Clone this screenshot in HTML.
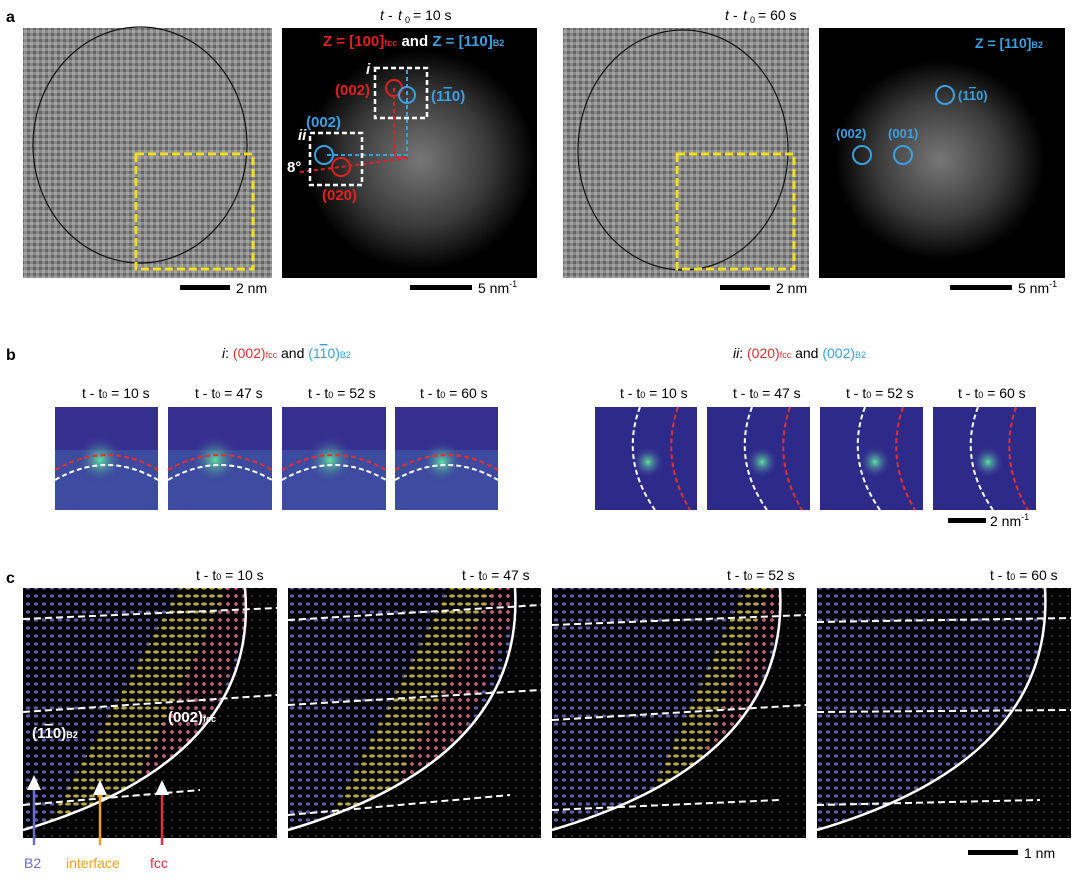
<!DOCTYPE html>
<html><head><meta charset="utf-8"><style>
body{margin:0;background:#fff;}
svg{display:block;font-family:"Liberation Sans",sans-serif;}
</style></head><body>
<svg width="1080" height="880" viewBox="0 0 1080 880" xmlns="http://www.w3.org/2000/svg">
<defs>
<pattern id="tem" width="6" height="6" patternUnits="userSpaceOnUse">
<rect width="6" height="6" fill="#8a8a8a"/><rect x="0" y="0" width="3" height="3" fill="#a4a4a4"/><rect x="3" y="3" width="3" height="3" fill="#666"/></pattern>
<pattern id="lat" width="8" height="8" patternUnits="userSpaceOnUse">
<rect width="8" height="8" fill="#050508"/><ellipse cx="4" cy="4" rx="2.2" ry="1.6" fill="#5e5eaa"/></pattern>
<pattern id="latY" width="8" height="8" patternUnits="userSpaceOnUse">
<rect width="8" height="8" fill="#08080a"/><ellipse cx="4" cy="4" rx="3" ry="1.6" fill="#b8a848"/></pattern>
<pattern id="latR" width="8" height="8" patternUnits="userSpaceOnUse">
<rect width="8" height="8" fill="#08060a"/><circle cx="4" cy="4" r="1.9" fill="#c06070"/></pattern>
<pattern id="latW" width="8" height="8" patternUnits="userSpaceOnUse">
<rect width="8" height="8" fill="#000"/><circle cx="4" cy="4" r="1" fill="#333"/></pattern>
<radialGradient id="fft"><stop offset="0" stop-color="#777"/><stop offset="0.6" stop-color="#3a3a3a"/><stop offset="1" stop-color="#000"/></radialGradient>
<radialGradient id="spot"><stop offset="0" stop-color="#60e0a0"/><stop offset="1" stop-color="#3a2f9a" stop-opacity="0"/></radialGradient>
</defs>
<g font-weight="bold" font-size="16"><text x="6" y="22">a</text><text x="6" y="360">b</text><text x="6" y="583">c</text></g>

<!-- row a -->
<g font-size="14">
<text x="380" y="20" font-style="italic">t</text><text x="388" y="20">- </text><text x="398" y="20" font-style="italic">t</text><text x="405" y="23" font-size="9">0</text><text x="413" y="20">= 10 s</text>
<text x="725" y="20" font-style="italic">t</text><text x="733" y="20">- </text><text x="743" y="20" font-style="italic">t</text><text x="750" y="23" font-size="9">0</text><text x="758" y="20">= 60 s</text>
</g>
<rect x="23" y="28" width="249" height="250" fill="url(#tem)"/>
<ellipse cx="140" cy="145" rx="107" ry="118" fill="none" stroke="#111" stroke-width="1.2"/>
<rect x="136" y="154" width="117" height="115" fill="none" stroke="#f0e020" stroke-width="3" stroke-dasharray="8,4"/>
<rect x="282" y="28" width="255" height="250" fill="#000"/>
<ellipse cx="420" cy="160" rx="115" ry="110" fill="url(#fft)"/>
<text x="323" y="46" font-size="15" font-weight="bold" fill="#e02020">Z = [100]<tspan font-size="9">fcc</tspan><tspan fill="#fff"> and </tspan><tspan fill="#3aa0e0">Z = [110]<tspan font-size="9">B2</tspan></tspan></text>
<path d="M394 88 L394 157 L408 157" stroke="#e02020" stroke-width="2" fill="none" stroke-dasharray="4,3"/>
<path d="M407 70 L407 155 L324 155" stroke="#3aa0e0" stroke-width="2" fill="none" stroke-dasharray="4,3"/>
<path d="M300 172 L341 167 L408 158" stroke="#e02020" stroke-width="2" fill="none" stroke-dasharray="4,3"/>
<rect x="375" y="68" width="52" height="50" fill="none" stroke="#fff" stroke-width="2.5" stroke-dasharray="5,3"/>
<rect x="310" y="133" width="52" height="52" fill="none" stroke="#fff" stroke-width="2.5" stroke-dasharray="5,3"/>
<circle cx="394" cy="88" r="8" fill="none" stroke="#e02020" stroke-width="2"/>
<circle cx="407" cy="95" r="8" fill="none" stroke="#3aa0e0" stroke-width="2"/>
<circle cx="324" cy="155" r="9" fill="none" stroke="#3aa0e0" stroke-width="2"/>
<circle cx="341" cy="167" r="9" fill="none" stroke="#e02020" stroke-width="2"/>
<g font-size="15" font-weight="bold"><text x="335" y="95" fill="#e02020">(002)</text><text x="431" y="101" fill="#3aa0e0">(1<tspan text-decoration="overline">1</tspan>0)</text>
<text x="306" y="127" fill="#3aa0e0">(002)</text><text x="322" y="200" fill="#e02020">(020)</text><text x="287" y="172" fill="#fff">8°</text>
<text x="366" y="74" fill="#fff" font-style="italic">i</text><text x="298" y="140" fill="#fff" font-style="italic">ii</text></g>
<rect x="563" y="28" width="246" height="250" fill="url(#tem)"/>
<ellipse cx="683" cy="150" rx="105" ry="120" fill="none" stroke="#111" stroke-width="1.2"/>
<rect x="677" y="154" width="117" height="115" fill="none" stroke="#f0e020" stroke-width="3" stroke-dasharray="8,4"/>
<rect x="819" y="28" width="246" height="250" fill="#000"/>
<ellipse cx="940" cy="160" rx="105" ry="100" fill="url(#fft)"/>
<text x="975" y="48" font-size="14" font-weight="bold" fill="#3aa0e0">Z = [110]<tspan font-size="9">B2</tspan></text>
<circle cx="945" cy="95" r="9" fill="none" stroke="#3aa0e0" stroke-width="2"/>
<circle cx="862" cy="155" r="9" fill="none" stroke="#3aa0e0" stroke-width="2"/>
<circle cx="903" cy="155" r="9" fill="none" stroke="#3aa0e0" stroke-width="2"/>
<g font-size="13" font-weight="bold" fill="#3aa0e0"><text x="958" y="100">(1<tspan text-decoration="overline">1</tspan>0)</text><text x="836" y="138">(002)</text><text x="888" y="138">(001)</text></g>
<g font-size="14"><rect x="180" y="285" width="50" height="5" fill="#000"/><text x="236" y="293">2 nm</text>
<rect x="410" y="285" width="62" height="5" fill="#000"/><text x="478" y="293">5 nm<tspan font-size="9" dy="-6">-1</tspan></text>
<rect x="720" y="285" width="50" height="5" fill="#000"/><text x="776" y="293">2 nm</text>
<rect x="950" y="285" width="62" height="5" fill="#000"/><text x="1018" y="293">5 nm<tspan font-size="9" dy="-6">-1</tspan></text></g>

<!-- row b -->
<g font-size="14">
<text x="222" y="358"><tspan font-style="italic">i</tspan>: <tspan fill="#e03030">(002)<tspan font-size="9">fcc</tspan></tspan> and <tspan fill="#3aa0e0">(1<tspan text-decoration="overline">1</tspan>0)<tspan font-size="9">B2</tspan></tspan></text>
<text x="733" y="358"><tspan font-style="italic">ii</tspan>: <tspan fill="#e03030">(020)<tspan font-size="9">fcc</tspan></tspan> and <tspan fill="#3aa0e0">(002)<tspan font-size="9">B2</tspan></tspan></text>
</g>
<g font-size="14">
<text x="82" y="398">t - t<tspan font-size="9">0</tspan> = 10 s</text><text x="195" y="398">t - t<tspan font-size="9">0</tspan> = 47 s</text><text x="308" y="398">t - t<tspan font-size="9">0</tspan> = 52 s</text><text x="420" y="398">t - t<tspan font-size="9">0</tspan> = 60 s</text>
<text x="620" y="398">t - t<tspan font-size="9">0</tspan> = 10 s</text><text x="733" y="398">t - t<tspan font-size="9">0</tspan> = 47 s</text><text x="846" y="398">t - t<tspan font-size="9">0</tspan> = 52 s</text><text x="958" y="398">t - t<tspan font-size="9">0</tspan> = 60 s</text>
</g>
<g>
<rect x="55" y="407" width="103" height="103" fill="#35308f"/><rect x="55" y="450" width="103" height="60" fill="#3d4ba0"/><circle cx="100" cy="460" r="25" fill="url(#spot)"/>
<path d="M55 470 Q107 440 158 470" stroke="#e03030" stroke-width="2" fill="none" stroke-dasharray="5,3"/><path d="M55 480 Q107 450 158 480" stroke="#fff" stroke-width="2" fill="none" stroke-dasharray="5,3"/>
<rect x="168" y="407" width="104" height="103" fill="#35308f"/><rect x="168" y="450" width="104" height="60" fill="#3d4ba0"/><circle cx="215" cy="460" r="25" fill="url(#spot)"/>
<path d="M168 470 Q220 440 272 470" stroke="#e03030" stroke-width="2" fill="none" stroke-dasharray="5,3"/><path d="M168 480 Q220 450 272 480" stroke="#fff" stroke-width="2" fill="none" stroke-dasharray="5,3"/>
<rect x="282" y="407" width="104" height="103" fill="#35308f"/><rect x="282" y="450" width="104" height="60" fill="#3d4ba0"/><circle cx="330" cy="460" r="25" fill="url(#spot)"/>
<path d="M282 470 Q334 440 386 470" stroke="#e03030" stroke-width="2" fill="none" stroke-dasharray="5,3"/><path d="M282 480 Q334 450 386 480" stroke="#fff" stroke-width="2" fill="none" stroke-dasharray="5,3"/>
<rect x="395" y="407" width="103" height="103" fill="#35308f"/><rect x="395" y="450" width="103" height="60" fill="#3d4ba0"/><circle cx="442" cy="462" r="22" fill="url(#spot)"/>
<path d="M395 470 Q447 440 498 470" stroke="#e03030" stroke-width="2" fill="none" stroke-dasharray="5,3"/><path d="M395 480 Q447 450 498 480" stroke="#fff" stroke-width="2" fill="none" stroke-dasharray="5,3"/>
</g>
<g>
<rect x="595" y="407" width="102" height="103" fill="#2e2a8a"/><circle cx="648" cy="462" r="16" fill="url(#spot)"/>
<path d="M640 407 Q620 460 655 510" stroke="#fff" stroke-width="2" fill="none" stroke-dasharray="5,3"/><path d="M678 407 Q660 460 690 510" stroke="#e03030" stroke-width="2" fill="none" stroke-dasharray="5,3"/>
<rect x="707" y="407" width="103" height="103" fill="#2e2a8a"/><circle cx="762" cy="462" r="16" fill="url(#spot)"/>
<path d="M752 407 Q732 460 767 510" stroke="#fff" stroke-width="2" fill="none" stroke-dasharray="5,3"/><path d="M790 407 Q772 460 802 510" stroke="#e03030" stroke-width="2" fill="none" stroke-dasharray="5,3"/>
<rect x="820" y="407" width="103" height="103" fill="#2e2a8a"/><circle cx="875" cy="462" r="16" fill="url(#spot)"/>
<path d="M865 407 Q845 460 880 510" stroke="#fff" stroke-width="2" fill="none" stroke-dasharray="5,3"/><path d="M903 407 Q885 460 915 510" stroke="#e03030" stroke-width="2" fill="none" stroke-dasharray="5,3"/>
<rect x="933" y="407" width="103" height="103" fill="#2e2a8a"/><circle cx="988" cy="462" r="16" fill="url(#spot)"/>
<path d="M978 407 Q958 460 993 510" stroke="#fff" stroke-width="2" fill="none" stroke-dasharray="5,3"/><path d="M1016 407 Q998 460 1028 510" stroke="#e03030" stroke-width="2" fill="none" stroke-dasharray="5,3"/>
</g>
<rect x="948" y="518" width="38" height="5" fill="#000"/><text x="990" y="526" font-size="14">2 nm<tspan font-size="9" dy="-6">-1</tspan></text>

<!-- row c -->
<g font-size="14">
<text x="196" y="580">t - t<tspan font-size="9">0</tspan> = 10 s</text><text x="462" y="580">t - t<tspan font-size="9">0</tspan> = 47 s</text><text x="727" y="580">t - t<tspan font-size="9">0</tspan> = 52 s</text><text x="990" y="580">t - t<tspan font-size="9">0</tspan> = 60 s</text>
</g>
<g>
<rect x="23" y="588" width="254" height="250" fill="url(#lat)"/>
<polygon points="180,588 228,588 110,838 40,838" fill="url(#latY)"/>
<polygon points="228,588 260,588 170,838 110,838" fill="url(#latR)"/>
<path d="M245 588 Q260 760 23 830 L23 838 L277 838 L277 588 Z" fill="url(#latW)"/>
<path d="M245 588 Q260 760 23 830" stroke="#fff" stroke-width="2.5" fill="none"/>
<path d="M23 619 L277 608 M23 712 L277 695 M23 805 L200 790" stroke="#fff" stroke-width="2" stroke-dasharray="7,4"/>
<text x="32" y="738" fill="#fff" font-weight="bold" font-size="15">(1<tspan text-decoration="overline">1</tspan>0)<tspan font-size="9">B2</tspan></text>
<text x="168" y="722" fill="#fff" font-weight="bold" font-size="15">(002)<tspan font-size="9">fcc</tspan></text>
</g>
<g>
<rect x="288" y="588" width="253" height="250" fill="url(#lat)"/>
<polygon points="450,588 495,588 370,838 320,838" fill="url(#latY)"/>
<polygon points="495,588 525,588 420,838 370,838" fill="url(#latR)"/>
<path d="M515 588 Q525 760 288 830 L288 838 L541 838 L541 588 Z" fill="url(#latW)"/>
<path d="M515 588 Q525 760 288 830" stroke="#fff" stroke-width="2.5" fill="none"/>
<path d="M288 620 L541 605 M288 705 L541 690 M288 815 L510 795" stroke="#fff" stroke-width="2" stroke-dasharray="7,4"/>
</g>
<g>
<rect x="552" y="588" width="254" height="250" fill="url(#lat)"/>
<polygon points="745,588 770,588 670,838 630,838" fill="url(#latY)"/>
<polygon points="770,588 790,588 710,838 670,838" fill="url(#latR)"/>
<path d="M780 588 Q790 760 552 830 L552 838 L806 838 L806 588 Z" fill="url(#latW)"/>
<path d="M780 588 Q790 760 552 830" stroke="#fff" stroke-width="2.5" fill="none"/>
<path d="M552 625 L806 615 M552 720 L806 705 M552 810 L780 800" stroke="#fff" stroke-width="2" stroke-dasharray="7,4"/>
</g>
<g>
<rect x="817" y="588" width="254" height="250" fill="url(#lat)"/>
<path d="M1045 588 Q1055 760 817 830 L817 838 L1071 838 L1071 588 Z" fill="url(#latW)"/>
<path d="M1045 588 Q1055 760 817 830" stroke="#fff" stroke-width="2.5" fill="none"/>
<path d="M817 622 L1071 618 M817 712 L1071 710 M817 805 L1040 800" stroke="#fff" stroke-width="2" stroke-dasharray="7,4"/>
</g>
<g stroke-width="2.5">
<line x1="34" y1="845" x2="34" y2="785" stroke="#6a6ad0"/><polygon points="27,790 41,790 34,775" fill="#fff"/>
<line x1="100" y1="845" x2="100" y2="790" stroke="#f0a020"/><polygon points="93,795 107,795 100,780" fill="#fff"/>
<line x1="162" y1="845" x2="162" y2="790" stroke="#e03040"/><polygon points="155,795 169,795 162,780" fill="#fff"/>
</g>
<g font-size="14"><text x="24" y="868" fill="#6a6ad0">B2</text><text x="66" y="868" fill="#f0a020">interface</text><text x="150" y="868" fill="#e03040">fcc</text></g>
<rect x="968" y="850" width="50" height="5" fill="#000"/><text x="1024" y="858" font-size="14">1 nm</text>
</svg>
</body></html>
